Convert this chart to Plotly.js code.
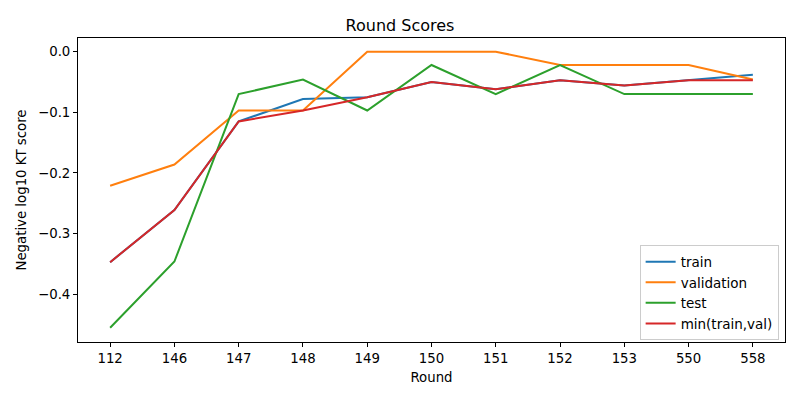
<!DOCTYPE html>
<html>
<head>
<meta charset="utf-8">
<script src="https://cdn.plot.ly/plotly-3.0.1.min.js"></script>
<style>body{margin:0;background:#fff}</style>
</head>
<body>
<div id="chart" style="width:800px;height:400px"></div>
<script>
var rounds = ['112','146','147','148','149','150','151','152','153','550','558'];
var train = [-0.347, -0.261, -0.115, -0.078, -0.075, -0.050, -0.062, -0.047, -0.056, -0.047, -0.038];
var validation = [-0.221, -0.186, -0.097, -0.097, 0.0, 0.0, 0.0, -0.022, -0.022, -0.022, -0.046];
var test = [-0.455, -0.346, -0.070, -0.046, -0.097, -0.022, -0.070, -0.022, -0.070, -0.070, -0.070];
var minTrainVal = [-0.347, -0.261, -0.115, -0.097, -0.075, -0.050, -0.062, -0.047, -0.056, -0.047, -0.047];

var names = ['train', 'validation', 'test', 'min(train,val)'];
var colors = ['#1f77b4', '#ff7f0e', '#2ca02c', '#d62728'];
var series = [train, validation, test, minTrainVal];

var data = [];
for (var i = 0; i < series.length; i++) {
    data.push({
        x: rounds,
        y: series[i],
        type: 'scatter',
        mode: 'lines',
        name: names[i],
        line: {color: colors[i], width: 2}
    });
}

var font = {family: 'DejaVu Sans, sans-serif', size: 13.3, color: '#000'};
var layout = {
    width: 800,
    height: 400,
    font: font,
    paper_bgcolor: '#fff',
    plot_bgcolor: '#fff',
    margin: {l: 78, r: 14.5, t: 37.5, b: 58},
    title: {text: 'Round Scores', font: {family: font.family, size: 16, color: '#000'},
            x: 0.5, xanchor: 'center', y: 0.937, yanchor: 'middle'},
    xaxis: {
        type: 'category',
        range: [-0.5, 10.5],
        title: {text: 'Round', font: font, standoff: 7},
        showgrid: false, zeroline: false,
        showline: true, linecolor: '#000', linewidth: 1, mirror: true,
        ticks: 'outside', ticklen: 4, tickcolor: '#000', tickwidth: 1
    },
    yaxis: {
        range: [-0.4786, 0.0225],
        dtick: 0.1, tick0: 0, tickformat: '.1f',
        title: {text: 'Negative log10 KT score', font: font, standoff: 8},
        showgrid: false, zeroline: false,
        showline: true, linecolor: '#000', linewidth: 1, mirror: true,
        ticks: 'outside', ticklen: 4, tickcolor: '#000', tickwidth: 1
    },
    legend: {
        x: 0.991, xanchor: 'right', y: 0.005, yanchor: 'bottom',
        bgcolor: 'rgba(255,255,255,0.8)', bordercolor: '#cccccc', borderwidth: 1,
        font: {family: font.family, size: 13.5, color: '#000'}, tracegroupgap: 0, itemwidth: 30
    },
    showlegend: true
};

Plotly.newPlot('chart', data, layout, {displayModeBar: false, staticPlot: true});
</script>
</body>
</html>
